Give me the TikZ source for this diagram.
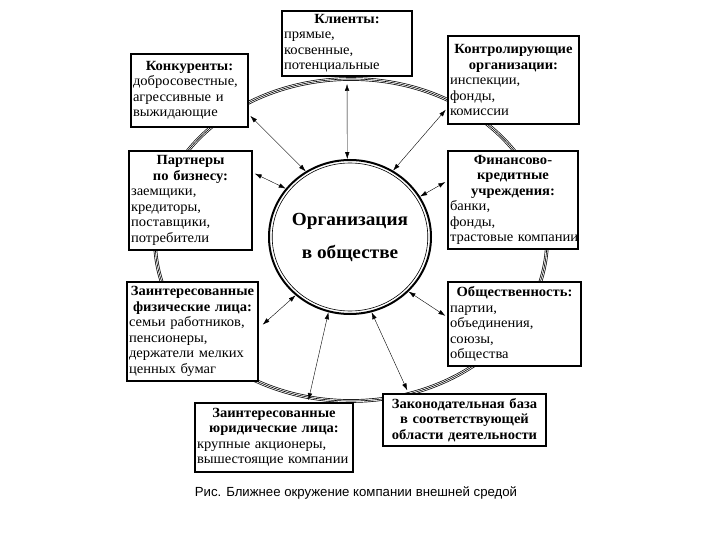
\documentclass[tikz,border=0pt]{standalone}
\usepackage{fontspec}
\setmainfont{Liberation Serif}[FakeStretch=1.04]
\newfontfamily\capfont{Liberation Sans}
\usetikzlibrary{shapes,shapes.geometric,arrows.meta,calc,positioning}
\tikzset{envbox/.style={draw, rectangle, line width=2.4pt, fill=white, inner xsep=1.5pt, inner ysep=2pt, align=left, font=\fontsize{14}{15.5}\selectfont}}
\tikzset{org/.style={draw, ellipse, line width=2pt, fill=white, inner sep=0pt, align=center, font=\fontsize{18.5}{19}\selectfont\bfseries}}
\newcommand{\hd}[1]{{\centering\bfseries #1\par}}

\begin{document}
\begin{tikzpicture}[x=1pt, y=-1pt, >={Latex[length=7pt,width=4.5pt]}, auto]
\useasboundingbox (0,0) rectangle (720,540);
% outer ring
\draw[line width=3.6pt] (351,240) ellipse (196 and 161);
\draw[white, line width=2.2pt] (351,240) ellipse (196 and 161);
\draw[line width=0.6pt] (351,240) ellipse (196 and 161);

\node[org, minimum width=162pt, minimum height=154pt] (org) at (350,237)
  {\makebox[0pt]{Организация}\\[14pt]\makebox[0pt]{в обществе}};
\draw[line width=0.6pt] (org.center) ellipse (77.8 and 74);

\node[envbox, minimum width=129.5pt, minimum height=64.5pt, text width=126pt] (klient) at (347,43.5)
  {\hd{Клиенты:}прямые,\\косвенные,\\потенциальные};
\node[envbox, minimum width=116.5pt, minimum height=72.5pt, text width=113pt] (konk) at (189.5,90.5)
  {\hd{Конкуренты:}добросовестные,\\агрессивные и\\выжидающие};
\node[envbox, minimum width=130.5pt, minimum height=87.5pt, text width=127pt] (kontr) at (513.5,80)
  {\hd{Контролирующие\\организации:}инспекции,\\фонды,\\комиссии};
\node[envbox, minimum width=122.5pt, minimum height=98.5pt, text width=119pt] (partn) at (190.5,200.5)
  {\hd{Партнеры\\по бизнесу:}заемщики,\\кредиторы,\\поставщики,\\потребители};
\node[envbox, minimum width=129.5pt, minimum height=97.5pt, text width=126pt] (fin) at (513,200)
  {\hd{Финансово-\\кредитные\\учреждения:}банки,\\фонды,\\\mbox{трастовые компании}};
\node[envbox, minimum width=130.5pt, minimum height=98.5pt, text width=127pt] (fiz) at (192.5,331.5)
  {\hd{Заинтересованные\\физические лица:}семьи работников,\\пенсионеры,\\держатели мелких\\ценных бумаг};
\node[envbox, minimum width=132.5pt, minimum height=83.5pt, text width=129pt] (obsh) at (514.5,324)
  {\hd{Общественность:}партии,\\объединения,\\союзы,\\общества};
\node[envbox, minimum width=157.5pt, minimum height=68.5pt, text width=154pt] (yur) at (274,437.5)
  {\hd{Заинтересованные\\юридические лица:}крупные акционеры,\\\mbox{вышестоящие компании}};
\node[envbox, minimum width=162.5pt, minimum height=51.5pt, text width=159pt] (zak) at (464.5,420)
  {\hd{Законодательная база\\в соответствующей\\области деятельности}};

\node (caption) at (356,493) {\capfont\fontsize{13.2}{15}\selectfont Рис. Ближнее окружение компании внешней средой};

\path[<->, thin, shorten <=2pt]
(klient.south) edge [shorten <=7pt] (org.92)
(konk.-22) edge (org.124)
(kontr.203) edge (org.57)
(partn.24) edge (org.143)
(fin.164) edge (org.30)
(fiz.3) edge [shorten <=5pt] (org.227)
(obsh.174) edge (org.317)
([xshift=34pt]yur.north) edge (org.254)
([xshift=-56pt]zak.north) edge [shorten <=3pt] (org.286)
;
\end{tikzpicture}
\end{document}
